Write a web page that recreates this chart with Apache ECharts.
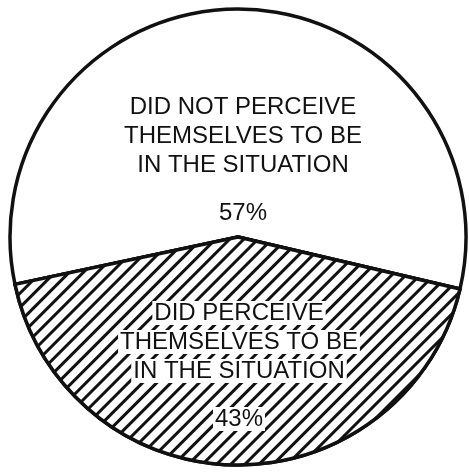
<!DOCTYPE html>
<html>
<head>
<meta charset="utf-8">
<script src="https://cdn.jsdelivr.net/npm/echarts@6/dist/echarts.min.js"></script>
<style>
  html, body { margin: 0; padding: 0; background: #fff; }
  #chart { width: 469px; height: 472px; }
</style>
</head>
<body>
<div id="chart"></div>
<script>
// slice data
const categories = [
  'DID NOT PERCEIVE\nTHEMSELVES TO BE\nIN THE SITUATION',
  'DID PERCEIVE\nTHEMSELVES TO BE\nIN THE SITUATION'
]
const percents = [57, 43]

const chart = echarts.init(document.getElementById('chart'))

// label block positions (top slice / bottom slice)
const labelPos = [
  { x: 243, y: 160 },
  { x: 239, y: 366 }
]

chart.setOption({
  backgroundColor: '#fff',
  animation: false,
  series: [
    {
      type: 'pie',
      center: [238, 237],
      radius: 228,
      startAngle: 192,
      clockwise: true,
      silent: true,
      itemStyle: {
        borderColor: '#111',
        borderWidth: 3.5
      },
      label: {
        position: 'inside',
        color: '#111',
        fontFamily: 'Liberation Sans, Arial, sans-serif',
        fontSize: 24,
        lineHeight: 29,
        align: 'center',
        formatter: (p) => {
          const lines = p.name.split('\n').map(l => '{t|' + l + '}')
          return lines.join('\n') + '\n{gap|}\n{t|' + p.value + '%}'
        },
        rich: {
          t: {
            fontSize: 24,
            lineHeight: 29,
            color: '#111',
            backgroundColor: '#fff',
            padding: [0, 2]
          },
          gap: { fontSize: 10, lineHeight: 19 }
        }
      },
      labelLine: { show: false },
      labelLayout: (params) => ({
        x: labelPos[params.dataIndex].x,
        y: labelPos[params.dataIndex].y,
        align: 'center',
        verticalAlign: 'middle'
      }),
      data: [
        {
          name: categories[0],
          value: percents[0],
          itemStyle: { color: '#fff' },
          label: { rich: { t: { backgroundColor: 'transparent' } } }
        },
        {
          name: categories[1],
          value: percents[1],
          itemStyle: {
            color: '#fff',
            decal: {
              symbol: 'rect',
              symbolSize: 1,
              color: '#111',
              backgroundColor: '#fff',
              dashArrayX: [1, 0],
              dashArrayY: [3, 7],
              rotation: -Math.PI / 4
            }
          }
        }
      ]
    }
  ]
})
</script>
</body>
</html>
